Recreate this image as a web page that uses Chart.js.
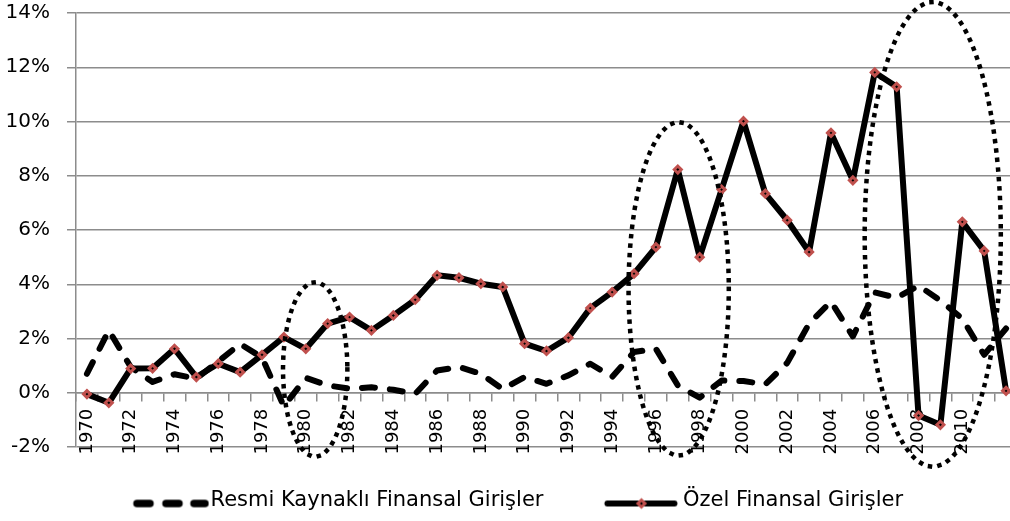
<!DOCTYPE html>
<html><head><meta charset="utf-8">
<script src="https://cdn.jsdelivr.net/npm/chart.js@4/dist/chart.umd.min.js"></script>
<style>
html,body{margin:0;padding:0;background:#fff;overflow:hidden}
#wrap{width:1010px;height:521px;overflow:hidden;position:relative;background:#fff}
canvas{display:block}
</style></head><body>
<div id="wrap"><canvas id="c" width="1017" height="521"></canvas></div>
<script>
const years = ['1970','1971','1972','1973','1974','1975','1976','1977','1978','1979',
  '1980','1981','1982','1983','1984','1985','1986','1987','1988','1989',
  '1990','1991','1992','1993','1994','1995','1996','1997','1998','1999',
  '2000','2001','2002','2003','2004','2005','2006','2007','2008','2009',
  '2010','2011','2012'];
const xTickLabels = ['1970','1972','1974','1976','1978','1980','1982','1984','1986','1988',
  '1990','1992','1994','1996','1998','2000','2002','2004','2006','2008','2010'];
const resmi = [0.70, 2.30, 0.95, 0.40, 0.68, 0.52, 1.15, 1.80, 1.30, -0.50,
  0.55, 0.27, 0.15, 0.20, 0.11, -0.04, 0.82, 0.95, 0.70, 0.13,
  0.58, 0.33, 0.64, 1.07, 0.58, 1.50, 1.62, 0.27, -0.18, 0.45,
  0.43, 0.31, 1.10, 2.55, 3.36, 2.08, 3.70, 3.50, 3.95, 3.40,
  2.73, 1.40, 2.37];
const ozel = [-0.05, -0.37, 0.89, 0.90, 1.62, 0.58, 1.07, 0.76, 1.40, 2.05,
  1.62, 2.55, 2.79, 2.30, 2.85, 3.43, 4.33, 4.24, 4.02, 3.90,
  1.81, 1.54, 2.03, 3.12, 3.71, 4.39, 5.37, 8.23, 5.00, 7.49,
  10.01, 7.34, 6.36, 5.19, 9.58, 7.83, 11.81, 11.28, -0.84, -1.18,
  6.30, 5.23, 0.07];
const seriesNames = ['Resmi Kaynaklı Finansal Girişler', 'Özel Finansal Girişler'];
const yMin = -2, yMax = 14, yStep = 2;
// highlighted periods (dotted ellipses), in data units
const ellipseYears = [1980.43, 1997.04, 2008.65];
const ellipseValues = [0.86, 3.83, 5.84];
const ellipseHalfYears = [1.47, 2.29, 3.11];
const ellipseHalfValues = [3.21, 6.14, 8.56];

const FONT = '"DejaVu Sans", sans-serif';
const GRID = '#8c8c8c';
const RED = '#C0504D';

function diamond(g, cx, cy, r) {
  g.beginPath(); g.moveTo(cx, cy - r); g.lineTo(cx + r, cy); g.lineTo(cx, cy + r); g.lineTo(cx - r, cy); g.closePath();
}
function legendSample(kind) {
  const c = document.createElement('canvas'); c.width = 105; c.height = 20;
  const g = c.getContext('2d');
  g.strokeStyle = '#000'; g.lineCap = 'round';
  if (kind === 0) {
    g.lineWidth = 7.5;
    [[32.5, 45.5], [61.5, 74.5], [89.5, 100.5]].forEach(([a, b]) => { g.beginPath(); g.moveTo(a, 13); g.lineTo(b, 13); g.stroke(); });
  } else {
    g.lineWidth = 6; g.beginPath(); g.moveTo(30.5, 13); g.lineTo(97.5, 13); g.stroke();
    diamond(g, 64.5, 13, 3.5); g.fillStyle = '#000'; g.fill(); g.lineWidth = 3; g.strokeStyle = RED; g.stroke();
  }
  return c;
}
const legendImgs = [legendSample(0), legendSample(1)];

// square-dotted outline, dots placed by arc length
function dottedEllipse(ctx, cx, cy, rx, ry, dot, period) {
  const N = 4000;
  let px = cx + rx, py = cy, acc = 0, next = 0;
  for (let k = 0; k < N; k++) {
    const t = (k / N) * Math.PI * 2;
    const qx = cx + rx * Math.cos(t), qy = cy + ry * Math.sin(t);
    acc += Math.hypot(qx - px, qy - py); px = qx; py = qy;
    if (acc >= next) {
      const ang = Math.atan2(ry * Math.cos(t), -rx * Math.sin(t));
      ctx.save(); ctx.translate(qx, qy); ctx.rotate(ang);
      ctx.fillRect(-dot / 2, -dot / 2, dot, dot);
      ctx.restore();
      next += period;
    }
  }
}

const ellipsePlugin = {
  id: 'ellipses',
  afterDraw(chart) {
    const {ctx} = chart; const x = chart.scales.x, y = chart.scales.y;
    ctx.save();
    ctx.fillStyle = '#000';
    for (let i = 0; i < ellipseYears.length; i++) {
      const i0 = ellipseYears[i] - Number(years[0]);
      const cx = x.getPixelForValue(i0);
      const rx = Math.abs(x.getPixelForValue(i0 + ellipseHalfYears[i]) - cx);
      const cy = y.getPixelForValue(ellipseValues[i]);
      const ry = Math.abs(y.getPixelForValue(ellipseValues[i] + ellipseHalfValues[i]) - cy);
      dottedEllipse(ctx, cx, cy, rx, ry, 4.5, 9.5);
    }
    ctx.restore();
  }
};

new Chart(document.getElementById('c'), {
  type: 'line',
  data: {
    labels: years,
    datasets: [
      { label: seriesNames[0], data: resmi, order: 1, borderColor: '#000', borderWidth: 6,
        borderDash: [13, 15], borderCapStyle: 'round', borderJoinStyle: 'round', pointRadius: 0, tension: 0, fill: false },
      { label: seriesNames[1], data: ozel, order: 0, borderColor: '#000', borderWidth: 6, borderJoinStyle: 'round',
        borderCapStyle: 'round',
        pointStyle: 'rectRot', pointRadius: 3.5, pointBorderWidth: 3, pointBackgroundColor: '#000',
        pointBorderColor: RED, tension: 0, fill: false }
    ]
  },
  options: {
    responsive: false, animation: false, devicePixelRatio: 1,
    layout: { autoPadding: false, padding: { left: 0, top: 13, right: 0, bottom: 0 } },
    scales: {
      x: {
        type: 'category', position: { y: 0 }, offset: true,
        grid: { display: true, drawOnChartArea: false, drawTicks: true, tickLength: 8, offset: true, color: GRID, lineWidth: 1.5 },
        border: { display: true, color: GRID, width: 1.5 },
        ticks: { autoSkip: false, minRotation: 90, maxRotation: 90, padding: 8, color: '#000',
          font: { family: FONT, size: 18 },
          callback: function (v, i) { return xTickLabels.includes(years[i]) ? years[i] : ''; } },
        afterFit: function (s) { s.paddingLeft = 0; s.paddingRight = 0; s.paddingTop = 0; s.paddingBottom = 0; }
      },
      y: {
        min: yMin, max: yMax,
        grid: { color: GRID, lineWidth: 1.5, tickLength: 9, drawTicks: true },
        border: { display: true, color: GRID, width: 1.5 },
        ticks: { stepSize: yStep, padding: 17, color: '#000', font: { family: FONT, size: 20 },
          callback: function (v) { return v + '%'; } },
        afterFit: function (s) { s.width = 76; s.paddingTop = 0; s.paddingBottom = 0; }
      }
    },
    plugins: {
      tooltip: { enabled: false },
      legend: {
        position: 'bottom',
        labels: {
          usePointStyle: true, pointStyleWidth: 86, padding: 43, color: '#000',
          font: { family: FONT, size: 21 },
          generateLabels: function (chart) {
            return chart.data.datasets.map(function (ds, i) {
              return { text: ds.label, pointStyle: legendImgs[i], datasetIndex: i, hidden: false,
                lineWidth: 0, strokeStyle: 'rgba(0,0,0,0)', fillStyle: 'rgba(0,0,0,0)', fontColor: '#000' };
            });
          }
        }
      }
    }
  },
  plugins: [ellipsePlugin]
});
</script>
</body></html>
